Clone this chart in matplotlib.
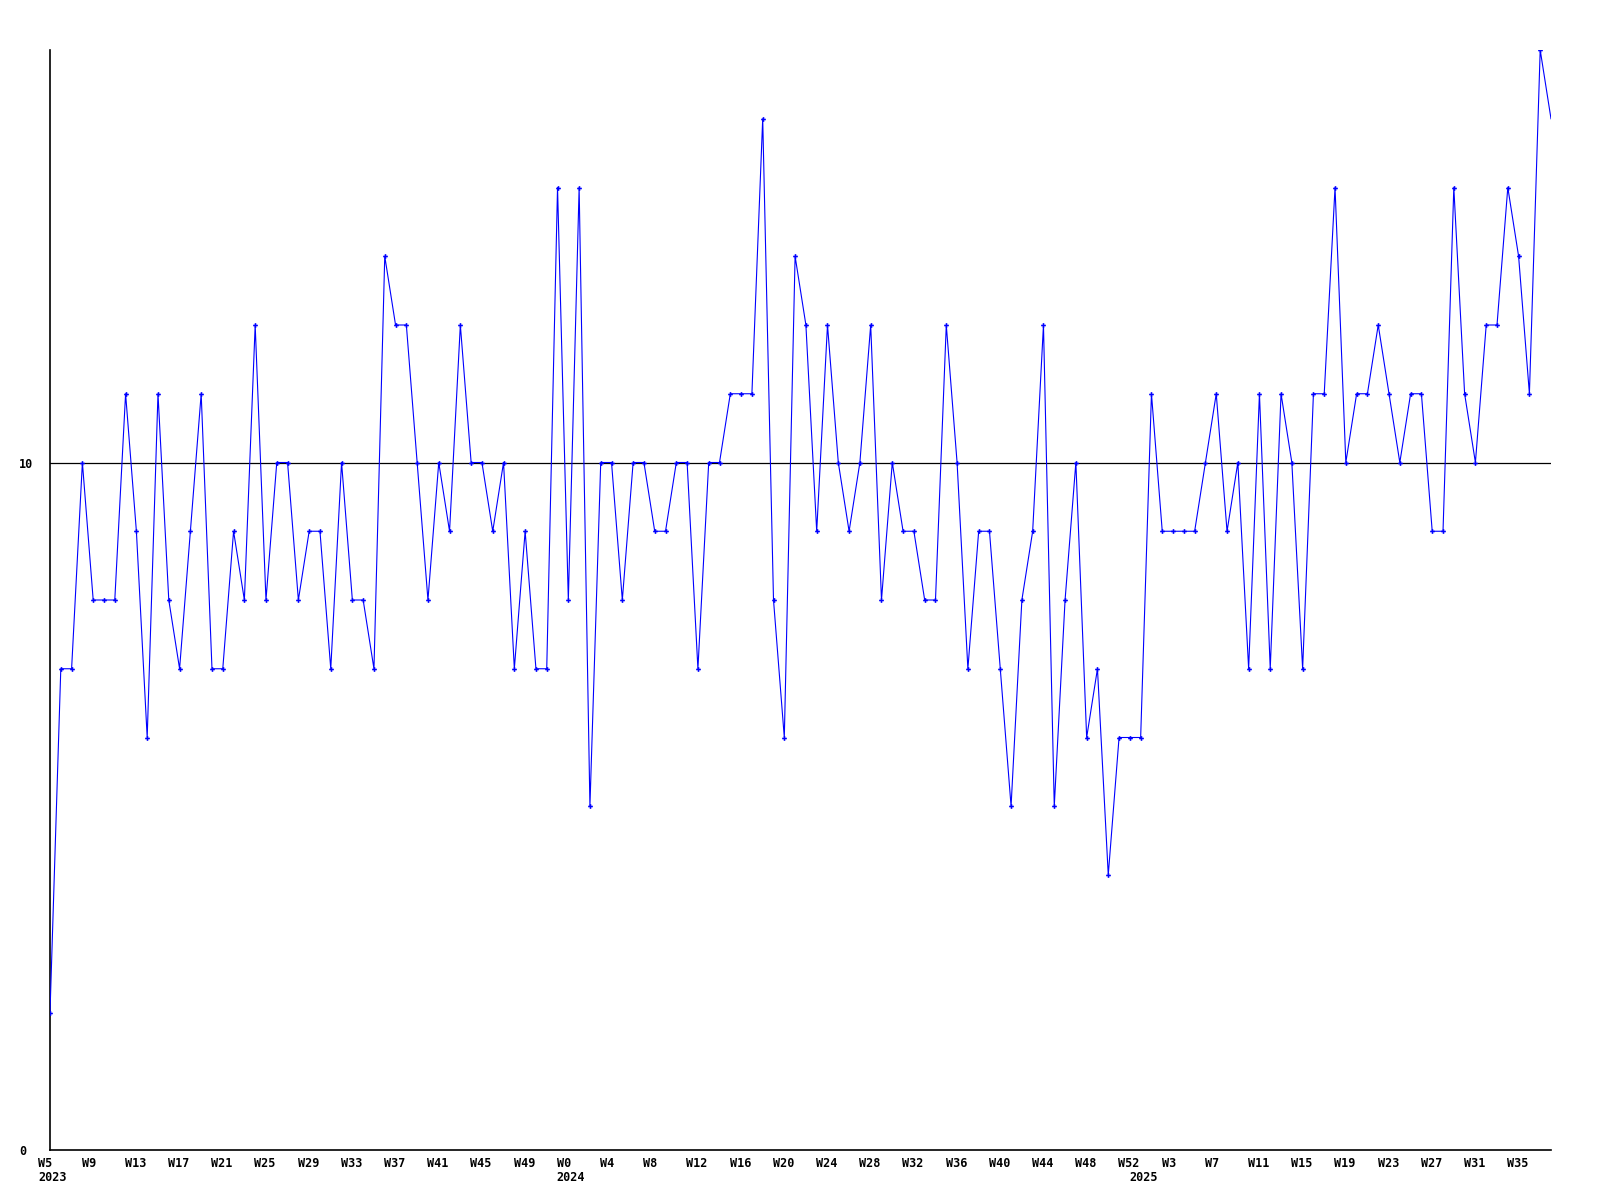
import matplotlib
matplotlib.use("Agg")
import matplotlib.pyplot as plt
from matplotlib.transforms import ScaledTranslation

# ---- data ----
values = [
    2, 7, 7, 10, 8, 8, 8, 11, 9, 6, 11, 8, 7, 9, 11, 7, 7, 9, 8, 12, 8, 10, 10, 8, 9,
    9, 7, 10, 8, 8, 7, 13, 12, 12, 10, 8, 10, 9, 12, 10, 10, 9, 10, 7, 9, 7, 7, 14, 8, 14,
    5, 10, 10, 8, 10, 10, 9, 9, 10, 10, 7, 10, 10, 11, 11, 11, 15, 8, 6, 13, 12, 9, 12, 10, 9,
    10, 12, 8, 10, 9, 9, 8, 8, 12, 10, 7, 9, 9, 7, 5, 8, 9, 12, 5, 8, 10, 6, 7, 4, 6,
    6, 6, 11, 9, 9, 9, 9, 10, 11, 9, 10, 7, 11, 7, 11, 10, 7, 11, 11, 14, 10, 11, 11, 12, 11,
    10, 11, 11, 9, 9, 14, 11, 10, 12, 12, 14, 13, 11, 16, 15,
]
tick_labels = ["W5", "W9", "W13", "W17", "W21", "W25", "W29", "W33", "W37", "W41",
               "W45", "W49", "W0", "W4", "W8", "W12", "W16", "W20", "W24", "W28",
               "W32", "W36", "W40", "W44", "W48", "W52", "W3", "W7", "W11", "W15",
               "W19", "W23", "W27", "W31", "W35"]
tick_positions = list(range(0, 4 * len(tick_labels), 4))
year_labels = ["2023", "2024", "2025"]
year_positions = [0, 48, 101]
ref_value = 10
y_ticks = [0, 10]

FONT = "DejaVu Sans Mono"
FS = 8.5

fig = plt.figure(figsize=(16, 12), dpi=100)
ax = fig.add_axes([50 / 1600, 50 / 1200, (1551 - 50) / 1600, 1100 / 1200])

x = list(range(len(values)))
ax.plot(x, values, color="#0000ff", linewidth=0.8, marker="P", markersize=3.4,
        markeredgewidth=0, markevery=list(range(len(values) - 1)), clip_on=True, zorder=3)
ax.axhline(ref_value, color="black", linewidth=0.9, zorder=2)

ax.set_xlim(0, len(values) - 1)
ax.set_ylim(0, 16)

for s in ["top", "right"]:
    ax.spines[s].set_visible(False)
for s in ["left", "bottom"]:
    ax.spines[s].set_color("black")
    ax.spines[s].set_linewidth(1.2)

ax.set_yticks(y_ticks)
ax.set_yticklabels([str(v) for v in y_ticks], fontfamily=FONT, fontweight="bold", fontsize=FS, ha="left")
ax.tick_params(axis="y", length=0, pad=22.3)

ax.set_xticks(tick_positions)
ax.set_xticklabels(tick_labels, fontfamily=FONT, fontweight="bold", fontsize=FS, ha="left")
ax.tick_params(axis="x", length=0, pad=5)
shift = ScaledTranslation(-11.5 / 100, 0, fig.dpi_scale_trans)
for lab in ax.get_xticklabels():
    lab.set_transform(lab.get_transform() + shift)

for pos, yl in zip(year_positions, year_labels):
    ax.annotate(yl, xy=(pos, 0), xycoords=("data", "axes fraction"),
                xytext=(-11.5 * 0.72, -27.5 * 0.72), textcoords="offset points",
                ha="left", va="center", fontfamily=FONT, fontweight="bold", fontsize=FS,
                annotation_clip=False)

fig.savefig("out.png", dpi=100, facecolor="white")
